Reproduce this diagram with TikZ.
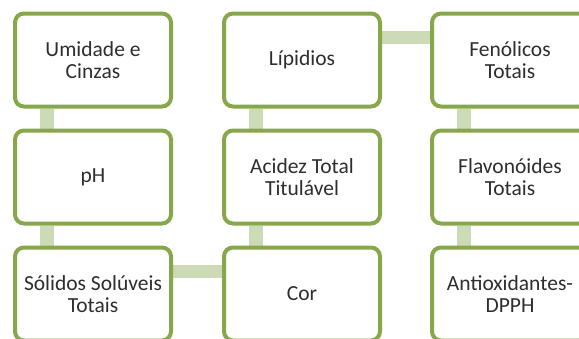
\documentclass[tikz,border=0pt]{standalone}
\usepackage{fontspec}
\setmainfont{Carlito}
\usepackage{tikz}
\usetikzlibrary{positioning,backgrounds}
\definecolor{boxGreen}{HTML}{86A84A}
\definecolor{linkGreen}{HTML}{CCDBB6}
\definecolor{inkGrey}{HTML}{2E2E2E}

\tikzset{
  stepbox/.style={draw=boxGreen,line width=4pt,fill=white,rounded corners=9pt,
    minimum width=156pt,minimum height=93pt,align=center,text=inkGrey,
    font=\fontsize{21.5}{22.5}\selectfont},
  link/.style={linkGreen,line width=14pt},
  hlink/.style={linkGreen,line width=13pt}
}

\begin{document}
\begin{tikzpicture}[x=1pt,y=-1pt]
  \useasboundingbox (0,0) rectangle (579,338);
  \clip (0,0) rectangle (579,338);
  % first column, top to bottom
  \node[stepbox] (umid) at (93,60) {Umidade e\\Cinzas};
  \node[stepbox] (ph) at (93,177) {pH};
  \node[stepbox] (solid) at (93,294) {Sólidos Solúveis\\Totais};
  % second column, bottom to top
  \node[stepbox] (cor) at (302,294) {Cor};
  \node[stepbox] (acid) at (302,177) {Acidez Total\\Titulável};
  \node[stepbox] (lip) at (302,60) {Lípidios};
  % third column, top to bottom
  \node[stepbox] (fen) at (510,60) {Fenólicos\\Totais};
  \node[stepbox] (flav) at (510,177) {Flavonóides\\Totais};
  \node[stepbox] (dpph) at (510,294) {Antioxidantes-\\DPPH};
  % links behind the boxes
  \begin{scope}[on background layer]
    \draw[link] ([xshift=34pt]umid.south west) -- ([xshift=34pt]ph.north west);
    \draw[link] ([xshift=34pt]ph.south west) -- ([xshift=34pt]solid.north west);
    \draw[hlink] ([yshift=-26pt]solid.north east) -- ([yshift=-26pt]cor.north west);
    \draw[link] ([xshift=34pt]cor.north west) -- ([xshift=34pt]acid.south west);
    \draw[link] ([xshift=34pt]acid.north west) -- ([xshift=34pt]lip.south west);
    \draw[hlink] ([yshift=-26pt]lip.north east) -- ([yshift=-26pt]fen.north west);
    \draw[link] ([xshift=34pt]fen.south west) -- ([xshift=34pt]flav.north west);
    \draw[link] ([xshift=34pt]flav.south west) -- ([xshift=34pt]dpph.north west);
  \end{scope}
\end{tikzpicture}
\end{document}
